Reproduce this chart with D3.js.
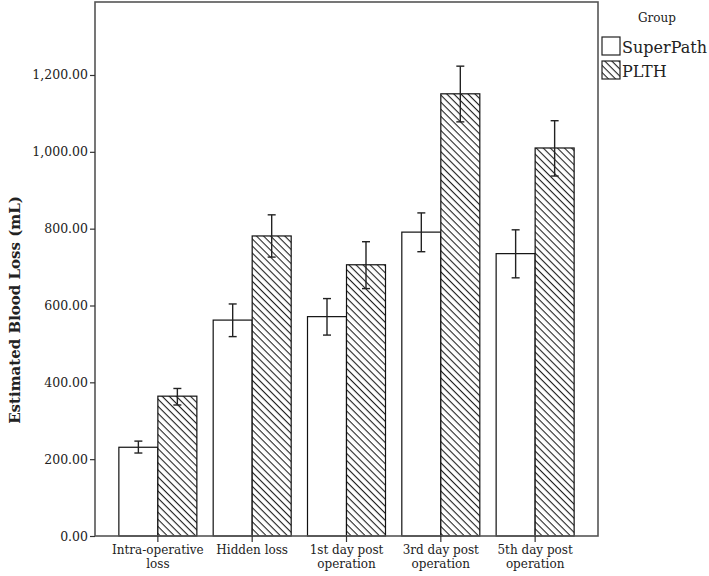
<!DOCTYPE html>
<html><head><meta charset="utf-8">
<script src="https://cdn.jsdelivr.net/npm/d3@7"></script>
<style>body{margin:0;background:#fff}svg{display:block}</style>
</head><body>
<svg id="c" width="709" height="576"></svg>
<script>
const categories = [["Intra-operative","loss"],["Hidden loss"],["1st day post","operation"],["3rd day post","operation"],["5th day post","operation"]];
const catKeys = ["Intra-operative loss","Hidden loss","1st day post operation","3rd day post operation","5th day post operation"];
const series = ["SuperPath","PLTH"];
const superPathMean = [231, 562, 571, 791, 735];
const superPathLow  = [216, 519, 523, 740, 672];
const superPathHigh = [247, 604, 618, 841, 797];
const plthMean = [364, 781, 706, 1151, 1010];
const plthLow  = [341, 726, 644, 1078, 937];
const plthHigh = [384, 836, 766, 1223, 1081];
const yTicks = [0, 200, 400, 600, 800, 1000, 1200];

const data = [];
catKeys.forEach((c,i)=>{
  data.push({cat:c, s:"SuperPath", v:superPathMean[i], lo:superPathLow[i], hi:superPathHigh[i]});
  data.push({cat:c, s:"PLTH", v:plthMean[i], lo:plthLow[i], hi:plthHigh[i]});
});

const svg = d3.select("#c");
const L=95, R=598, T=2, B=536;
const y = d3.scaleLinear().domain([0,1390]).range([B,T]);
const x0 = d3.scaleBand().domain(catKeys).range([L,R]).paddingInner(0.173).paddingOuter(0.253);
const x1 = d3.scaleBand().domain(series).range([0,x0.bandwidth()]);

const defs = svg.append("defs");
const pat = defs.append("pattern").attr("id","hatch").attr("patternUnits","userSpaceOnUse")
  .attr("width",5).attr("height",5).attr("patternTransform","rotate(45)");
pat.append("rect").attr("width",5).attr("height",5).attr("fill","#fff");
pat.append("line").attr("x1",0).attr("y1",0).attr("x2",5).attr("y2",0)
  .attr("stroke","#222").attr("stroke-width",2.2);

const FONT = "'DejaVu Serif', serif";

// bars
svg.append("g").selectAll("rect").data(data).join("rect")
  .attr("x",d=>x0(d.cat)+x1(d.s)).attr("width",x1.bandwidth())
  .attr("y",d=>y(d.v)).attr("height",d=>y(0)-y(d.v))
  .attr("fill",d=>d.s==="PLTH"?"url(#hatch)":"#fff")
  .attr("stroke","#111").attr("stroke-width",1.2);

// error bars
const eb = svg.append("g").attr("stroke","#222").attr("stroke-width",1.4);
data.forEach(d=>{
  const cx = x0(d.cat)+x1(d.s)+x1.bandwidth()/2;
  eb.append("line").attr("x1",cx).attr("x2",cx).attr("y1",y(d.lo)).attr("y2",y(d.hi));
  eb.append("line").attr("x1",cx-4).attr("x2",cx+4).attr("y1",y(d.lo)).attr("y2",y(d.lo));
  eb.append("line").attr("x1",cx-4).attr("x2",cx+4).attr("y1",y(d.hi)).attr("y2",y(d.hi));
});

// frame
svg.append("rect").attr("x",L).attr("y",T).attr("width",R-L).attr("height",B-T)
  .attr("fill","none").attr("stroke","#555").attr("stroke-width",1.6);

// y axis
const ya = svg.append("g").attr("transform",`translate(${L},0)`)
  .call(d3.axisLeft(y).tickValues(yTicks).tickFormat(d3.format(",.2f")).tickSize(5).tickPadding(2));
ya.select(".domain").remove();
ya.selectAll("line").attr("stroke","#333").attr("stroke-width",1.2);
ya.selectAll("text").attr("font-family",FONT).attr("font-size","12.5px").attr("fill","#222");

// x axis
const xa = svg.append("g").attr("transform",`translate(0,${B})`)
  .call(d3.axisBottom(x0).tickSize(6).tickFormat(""));
xa.select(".domain").remove();
xa.selectAll("line").attr("stroke","#333").attr("stroke-width",1.2);
catKeys.forEach((c,i)=>{
  const t = svg.append("text").attr("x",x0(c)+x0.bandwidth()/2).attr("y",B+18)
    .attr("text-anchor","middle").attr("font-family",FONT).attr("font-size","12px").attr("fill","#222");
  categories[i].forEach((line,j)=>t.append("tspan").attr("x",x0(c)+x0.bandwidth()/2).attr("dy",j?14:0).text(line));
});

// y title
svg.append("text").attr("transform",`translate(20,${(T+B)/2+41}) rotate(-90)`)
  .attr("text-anchor","middle").attr("font-family",FONT).attr("font-weight","bold")
  .attr("font-size","15px").attr("fill","#222").text("Estimated Blood Loss (mL)");

// legend
svg.append("text").attr("x",638).attr("y",22).attr("font-family",FONT).attr("font-size","12px").attr("fill","#222").text("Group");
series.forEach((s,i)=>{
  const yy = 37 + i*24;
  svg.append("rect").attr("x",602).attr("y",yy).attr("width",18).attr("height",18)
    .attr("fill",s==="PLTH"?"url(#hatch)":"#fff").attr("stroke","#222").attr("stroke-width",1.2);
  svg.append("text").attr("x",622).attr("y",yy+16).attr("font-family",FONT).attr("font-size","16px").attr("fill","#222").text(s);
});
</script>
</body></html>
